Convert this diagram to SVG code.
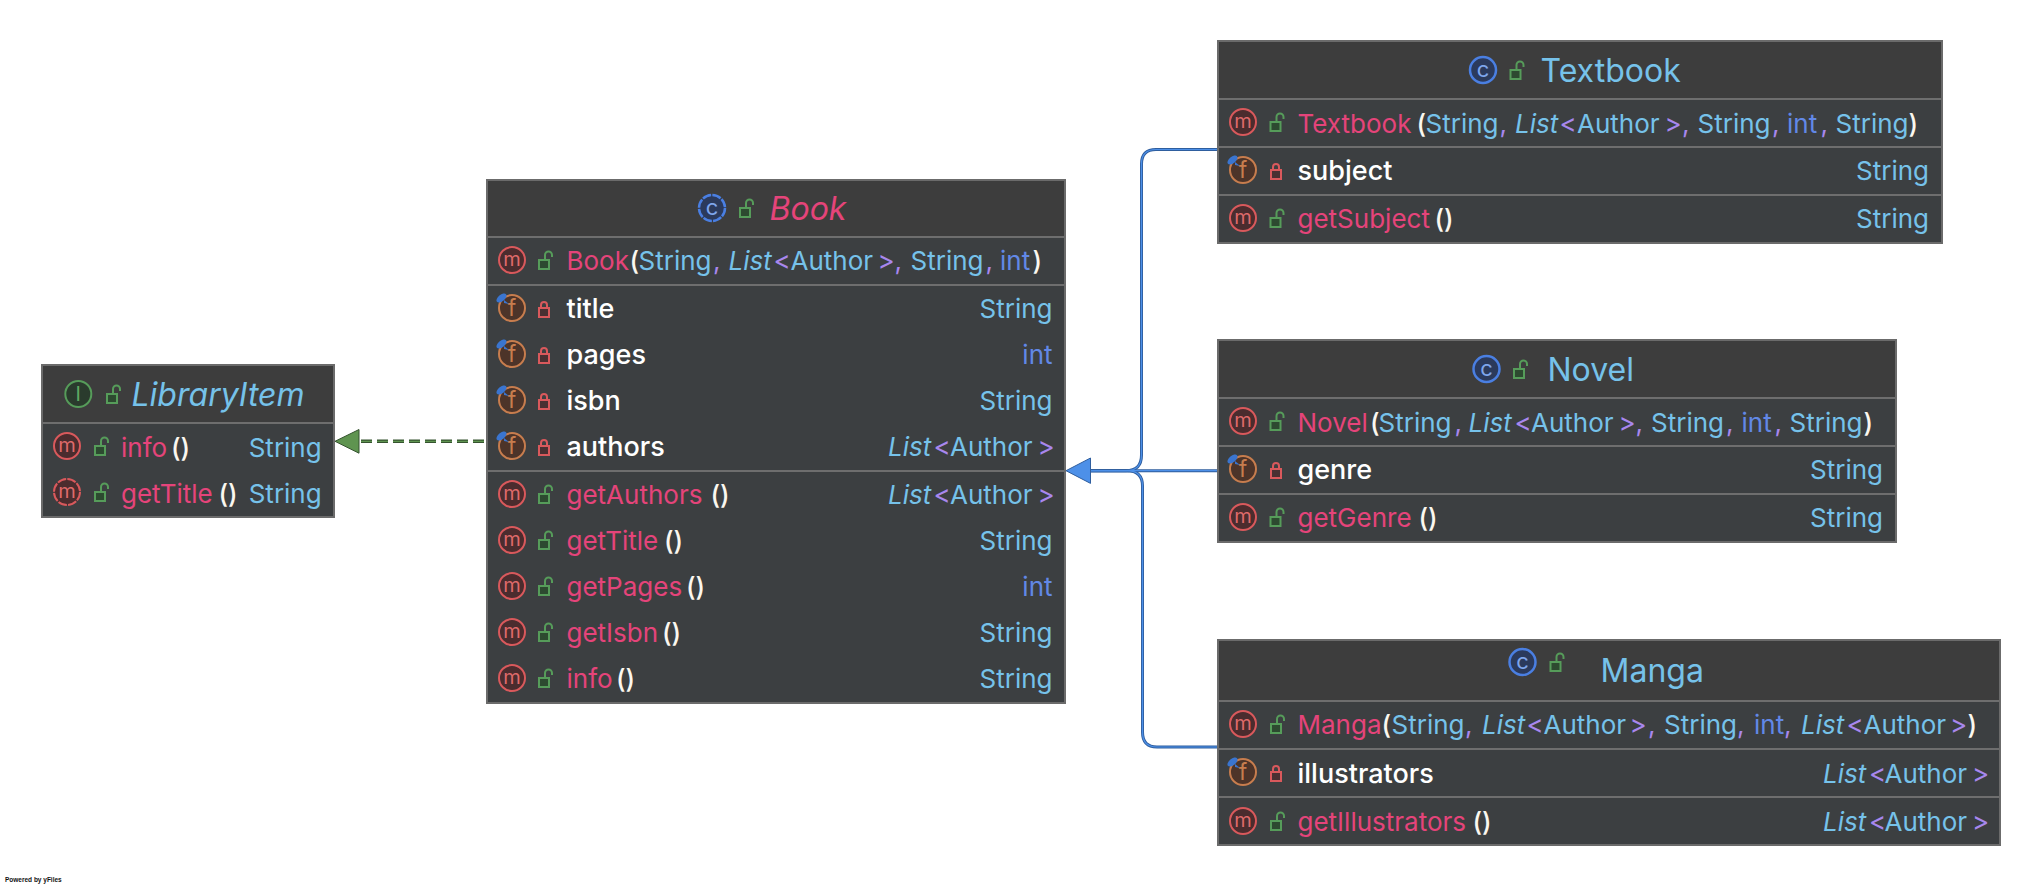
<svg xmlns="http://www.w3.org/2000/svg" width="2042" height="888" viewBox="0 0 2042 888">
<style>
text{font-family:Inter,"Noto Sans","Liberation Sans",sans-serif;font-size:26px;fill:#76c2ea;transform:translate(-.5px,1px)}
.head{fill:#3d3d3d}.body{fill:#3c3f41}.frame{fill:none;stroke:#6b6b6b;stroke-width:2}
.sep{stroke:#6e6e6e;stroke-width:2}
.ti{font-size:32px;font-style:italic;transform:none}.tn{font-size:32px}.tp{fill:#e5447a}
.n{fill:#e5447a}.p{fill:#fbf7ef;font-weight:500}.t{fill:#76c2ea}.i{fill:#6288e6}.g{fill:#a887ee}.li{font-style:italic;fill:#76c2ea}.f{fill:#fff;font-weight:500;font-size:27px}
.r{text-anchor:end;transform:translate(1px,1px)}
.ic{font-size:20px;text-anchor:middle;transform:none}
.lo{fill:#2d4a30;stroke:#569c5a;stroke-width:2}.lc{fill:#4a3032;stroke:#d9595c;stroke-width:2}
.ln{fill:none}
#pow{font-family:"Liberation Sans",sans-serif;font-size:6.500px;font-weight:bold;fill:#111;transform:none}
</style>
<defs>
<g id="m"><circle r="13" fill="#4b2c2e" stroke="#d9595c" stroke-width="2"/><text class="ic" y="6" style="fill:#df6a6a">m</text></g>
<g id="ma"><circle r="13" fill="#4b2c2e" stroke="#d9595c" stroke-width="2" stroke-dasharray="9 1.200"/><text class="ic" y="6" style="fill:#df6a6a">m</text></g>
<g id="fld"><circle r="13" fill="#4d3429" stroke="#c77d4e" stroke-width="2"/><text class="ic" y="8" style="fill:#c77d4e;font-size:23px">f</text><ellipse cx="-10.500" cy="-10" rx="6" ry="3.300" transform="rotate(-40 -10.500 -10)" fill="#3a75d0"/><path d="M-8-8l5 4-5-1z" fill="#3a75d0"/></g>
<g id="c"><circle r="13" fill="#2b3a5c" stroke="#4a7fe2" stroke-width="2.500"/><text class="ic" y="7" style="fill:#7fa6ec;font-size:22px">c</text></g>
<g id="ca"><circle r="13" fill="#2b3a5c" stroke="#4a7fe2" stroke-width="2.500" stroke-dasharray="9 1.200"/><text class="ic" y="7" style="fill:#7fa6ec;font-size:22px">c</text></g>
<g id="it"><circle r="13" fill="#2a3b2d" stroke="#569c5a" stroke-width="2"/><text class="ic" y="7" style="fill:#5fa863">I</text></g>
<g id="lo"><rect x="-6" y="-1" width="10" height="9" class="lo"/><path d="M0-1V-6a3.500 3.500 0 0 1 7 0v2" class="ln" stroke="#569c5a" stroke-width="2"/></g>
<g id="lc"><rect x="-5" y="-1" width="10" height="9" class="lc"/><path d="M-3-1V-4a3 3 0 0 1 6 0v3" class="ln" stroke="#d9595c" stroke-width="2"/></g>
</defs>
<rect width="2042" height="888" fill="#fff"/>

<g id="connectors">
<path d="M361 441.300H486" fill="none" stroke="#35532f" stroke-width="3.500" stroke-dasharray="11 5"/>
<path d="M361 441.300H486" fill="none" stroke="#5f9450" stroke-width="1.300" stroke-dasharray="11 5"/>
<path d="M335 441.300L359 429.500V453.200Z" fill="#5f9450" stroke="#35532f" stroke-width="1"/>
<g fill="none" stroke="#2f5e9e" stroke-width="3">
<path d="M1218 149.500H1156Q1141.500 149.500 1141.500 164V455Q1141.500 470.700 1126 470.700H1090"/>
<path d="M1218 747H1157Q1142.500 747 1142.500 732V486Q1142.500 470.700 1127 470.700H1090"/>
<path d="M1218 470.700H1090"/>
</g>
<g fill="none" stroke="#4d90e8" stroke-width="1.200">
<path d="M1218 149.500H1156Q1141.500 149.500 1141.500 164V455Q1141.500 470.700 1126 470.700H1090"/>
<path d="M1218 747H1157Q1142.500 747 1142.500 732V486Q1142.500 470.700 1127 470.700H1090"/>
<path d="M1218 470.700H1090"/>
</g>
<path d="M1066 470.700L1090.500 458V483.400Z" fill="#4d90e8" stroke="#2f5e9e" stroke-width="1"/>
</g>

<g id="LibraryItem">
<rect x="42" y="365" width="292" height="58" class="head"/><rect x="42" y="423" width="292" height="94" class="body"/>
<rect x="42" y="365" width="292" height="152" class="frame"/><path d="M43 423H333" class="sep"/>
<use href="#it" x="78.300" y="394"/><use href="#lo" x="113" y="395"/>
<text x="131.500" y="406" class="ti">LibraryItem</text>
<use href="#m" x="67" y="446"/><use href="#lo" x="101" y="447"/>
<text y="456"><tspan x="121.500" class="n">info</tspan><tspan x="171.500" class="p">()</tspan></text><text x="320.700" y="456" class="r">String</text>
<use href="#ma" x="67" y="492"/><use href="#lo" x="101" y="493"/>
<text y="502"><tspan x="121.500" class="n">getTitle</tspan><tspan x="219" class="p">()</tspan></text><text x="320.700" y="502" class="r">String</text>
</g>

<g id="Book">
<rect x="487" y="180" width="578" height="58" class="head"/><rect x="487" y="238" width="578" height="465" class="body"/>
<rect x="487" y="180" width="578" height="523" class="frame"/><path d="M488 237H1064M488 285H1064M488 471H1064" class="sep"/>
<use href="#ca" x="712" y="208"/><use href="#lo" x="746" y="209"/>
<text x="769.500" y="220" class="ti tp">Book</text>
<use href="#m" x="512" y="260"/><use href="#lo" x="545" y="261"/>
<text y="269"><tspan x="567" class="n">Book</tspan><tspan x="630" class="p">(</tspan><tspan x="639" class="t">String</tspan><tspan x="713.500" class="g">,</tspan><tspan x="729" class="li">List</tspan><tspan x="774" class="g">&lt;</tspan><tspan x="791" class="t">Author</tspan><tspan x="878" class="g">&gt;</tspan><tspan x="895" class="g">,</tspan><tspan x="911" class="t">String</tspan><tspan x="986" class="g">,</tspan><tspan x="1000.500" class="i">int</tspan><tspan x="1033" class="p">)</tspan></text>
<use href="#fld" x="512" y="308"/><use href="#lc" x="544" y="309"/><text x="567" y="317" class="f">title</text><text x="1051.500" y="317" class="r">String</text>
<use href="#fld" x="512" y="354"/><use href="#lc" x="544" y="355"/><text x="567" y="363" class="f">pages</text><text x="1051.500" y="363" class="r i">int</text>
<use href="#fld" x="512" y="400"/><use href="#lc" x="544" y="401"/><text x="567" y="409" class="f">isbn</text><text x="1051.500" y="409" class="r">String</text>
<use href="#fld" x="512" y="446"/><use href="#lc" x="544" y="447"/><text x="567" y="455" class="f">authors</text>
<text y="455"><tspan x="888.500" class="li">List</tspan><tspan x="934" class="g">&lt;</tspan><tspan x="950.500" class="t">Author</tspan><tspan x="1038" class="g">&gt;</tspan></text>
<use href="#m" x="512" y="494"/><use href="#lo" x="545" y="495"/>
<text y="503"><tspan x="567" class="n">getAuthors</tspan><tspan x="711" class="p">()</tspan></text>
<text y="503"><tspan x="888.500" class="li">List</tspan><tspan x="934" class="g">&lt;</tspan><tspan x="950.500" class="t">Author</tspan><tspan x="1038" class="g">&gt;</tspan></text>
<use href="#m" x="512" y="540"/><use href="#lo" x="545" y="541"/>
<text y="549"><tspan x="567" class="n">getTitle</tspan><tspan x="664.500" class="p">()</tspan></text><text x="1051.500" y="549" class="r">String</text>
<use href="#m" x="512" y="586"/><use href="#lo" x="545" y="587"/>
<text y="595"><tspan x="567" class="n">getPages</tspan><tspan x="686.500" class="p">()</tspan></text><text x="1051.500" y="595" class="r i">int</text>
<use href="#m" x="512" y="632"/><use href="#lo" x="545" y="633"/>
<text y="641"><tspan x="567" class="n">getIsbn</tspan><tspan x="662.500" class="p">()</tspan></text><text x="1051.500" y="641" class="r">String</text>
<use href="#m" x="512" y="678"/><use href="#lo" x="545" y="679"/>
<text y="687"><tspan x="567" class="n">info</tspan><tspan x="616.500" class="p">()</tspan></text><text x="1051.500" y="687" class="r">String</text>
</g>

<g id="Textbook">
<rect x="1218" y="41" width="724" height="58" class="head"/><rect x="1218" y="99" width="724" height="144" class="body"/>
<rect x="1218" y="41" width="724" height="202" class="frame"/><path d="M1219 99H1941M1219 147H1941M1219 195H1941" class="sep"/>
<use href="#c" x="1483" y="70"/><use href="#lo" x="1516.500" y="71"/>
<text x="1541" y="81" class="tn">Textbook</text>
<use href="#m" x="1243" y="122"/><use href="#lo" x="1276.500" y="123"/>
<text y="131.500"><tspan x="1298" class="n">Textbook</tspan><tspan x="1417" class="p">(</tspan><tspan x="1426" class="t">String</tspan><tspan x="1500" class="g">,</tspan><tspan x="1515.500" class="li">List</tspan><tspan x="1560" class="g">&lt;</tspan><tspan x="1577.500" class="t">Author</tspan><tspan x="1665" class="g">&gt;</tspan><tspan x="1682.500" class="g">,</tspan><tspan x="1698" class="t">String</tspan><tspan x="1772.500" class="g">,</tspan><tspan x="1787.500" class="i">int</tspan><tspan x="1821" class="g">,</tspan><tspan x="1836" class="t">String</tspan><tspan x="1909" class="p">)</tspan></text>
<use href="#fld" x="1243" y="170"/><use href="#lc" x="1276" y="171"/><text x="1298" y="179" class="f">subject</text><text x="1928" y="179" class="r">String</text>
<use href="#m" x="1243" y="218"/><use href="#lo" x="1276.500" y="219"/>
<text y="227"><tspan x="1298" class="n">getSubject</tspan><tspan x="1435" class="p">()</tspan></text><text x="1928" y="227" class="r">String</text>
</g>

<g id="Novel">
<rect x="1218" y="340" width="678" height="58" class="head"/><rect x="1218" y="398" width="678" height="144" class="body"/>
<rect x="1218" y="340" width="678" height="202" class="frame"/><path d="M1219 398H1895M1219 446H1895M1219 494H1895" class="sep"/>
<use href="#c" x="1486.500" y="369"/><use href="#lo" x="1520" y="370"/>
<text x="1548" y="380" class="tn">Novel</text>
<use href="#m" x="1243" y="421"/><use href="#lo" x="1276.500" y="422"/>
<text y="430.500"><tspan x="1298" class="n">Novel</tspan><tspan x="1370.500" class="p">(</tspan><tspan x="1379" class="t">String</tspan><tspan x="1455" class="g">,</tspan><tspan x="1469" class="li">List</tspan><tspan x="1515" class="g">&lt;</tspan><tspan x="1531.500" class="t">Author</tspan><tspan x="1619" class="g">&gt;</tspan><tspan x="1636" class="g">,</tspan><tspan x="1651.500" class="t">String</tspan><tspan x="1726.500" class="g">,</tspan><tspan x="1742" class="i">int</tspan><tspan x="1775" class="g">,</tspan><tspan x="1790" class="t">String</tspan><tspan x="1864" class="p">)</tspan></text>
<use href="#fld" x="1243" y="469"/><use href="#lc" x="1276" y="470"/><text x="1298" y="478" class="f">genre</text><text x="1882" y="478" class="r">String</text>
<use href="#m" x="1243" y="517"/><use href="#lo" x="1276.500" y="518"/>
<text y="526"><tspan x="1298" class="n">getGenre</tspan><tspan x="1419" class="p">()</tspan></text><text x="1882" y="526" class="r">String</text>
</g>

<g id="Manga">
<rect x="1218" y="640" width="782" height="62" class="head"/><rect x="1218" y="702" width="782" height="143" class="body"/>
<rect x="1218" y="640" width="782" height="205" class="frame"/><path d="M1219 701H1999M1219 749H1999M1219 797H1999" class="sep"/>
<use href="#c" x="1522.500" y="662"/><use href="#lo" x="1556.500" y="663"/>
<text x="1601" y="681" class="tn">Manga</text>
<use href="#m" x="1243" y="724"/><use href="#lo" x="1277" y="725"/>
<text y="733"><tspan x="1298" class="n">Manga</tspan><tspan x="1382" class="p">(</tspan><tspan x="1392" class="t">String</tspan><tspan x="1465.500" class="g">,</tspan><tspan x="1482.500" class="li">List</tspan><tspan x="1527" class="g">&lt;</tspan><tspan x="1544" class="t">Author</tspan><tspan x="1630" class="g">&gt;</tspan><tspan x="1648.500" class="g">,</tspan><tspan x="1664.500" class="t">String</tspan><tspan x="1737.500" class="g">,</tspan><tspan x="1754.500" class="i">int</tspan><tspan x="1784.500" class="g">,</tspan><tspan x="1801.500" class="li">List</tspan><tspan x="1847" class="g">&lt;</tspan><tspan x="1864" class="t">Author</tspan><tspan x="1950.500" class="g">&gt;</tspan><tspan x="1968" class="p">)</tspan></text>
<use href="#fld" x="1243" y="772"/><use href="#lc" x="1276" y="773"/><text x="1298" y="782" class="f">illustrators</text>
<text y="782"><tspan x="1823.500" class="li">List</tspan><tspan x="1869.500" class="g">&lt;</tspan><tspan x="1885" class="t">Author</tspan><tspan x="1972.500" class="g">&gt;</tspan></text>
<use href="#m" x="1243" y="821"/><use href="#lo" x="1277" y="822"/>
<text y="830"><tspan x="1298" class="n">getIllustrators</tspan><tspan x="1473" class="p">()</tspan></text>
<text y="830"><tspan x="1823.500" class="li">List</tspan><tspan x="1869.500" class="g">&lt;</tspan><tspan x="1885" class="t">Author</tspan><tspan x="1972.500" class="g">&gt;</tspan></text>
</g>
<text id="pow" x="5" y="882">Powered by yFiles</text>
</svg>
